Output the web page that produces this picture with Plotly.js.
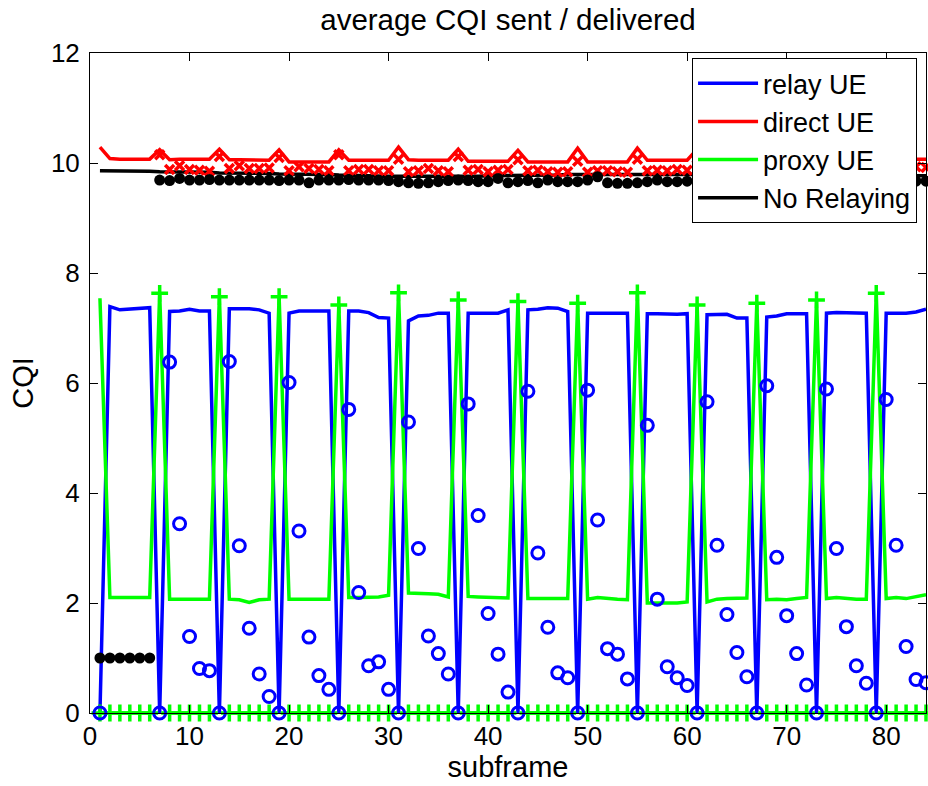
<!DOCTYPE html>
<html>
<head>
<meta charset="utf-8">
<script src="https://cdn.plot.ly/plotly-3.0.1.min.js"></script>
<style>html,body{margin:0;padding:0;background:#fff;}#chart{width:928px;height:786px;}</style>
</head>
<body>
<div id="chart"></div>
<script>
// subframe index
const subframe = Array.from({length: 84}, (_, i) => i + 1);

// relay UE (CQI sent)
const relaySent = [
  0, 7.39, 7.33, 7.34, 7.35, 7.37,
  0, 7.30, 7.31, 7.34, 7.31, 7.31,
  0, 7.35, 7.35, 7.35, 7.33, 7.27,
  0, 7.27, 7.31, 7.31, 7.31, 7.31,
  0, 7.31, 7.31, 7.28, 7.19, 7.18,
  0, 7.13, 7.22, 7.23, 7.27, 7.27,
  0, 7.27, 7.27, 7.27, 7.27, 7.33,
  0, 7.33, 7.34, 7.37, 7.36, 7.30,
  0, 7.27, 7.27, 7.27, 7.27, 7.27,
  0, 7.26, 7.26, 7.25, 7.25, 7.26,
  0, 7.24, 7.25, 7.25, 7.18, 7.18,
  0, 7.20, 7.22, 7.26, 7.26, 7.26,
  0, 7.27, 7.28, 7.28, 7.27, 7.27,
  0, 7.27, 7.27, 7.27, 7.29, 7.34
];

// relay UE (CQI delivered)
const relayDelivered = [
  0, null, null, null, null, null,
  0, 6.38, 3.44, 1.39, 0.81, 0.77,
  0, 6.39, 3.04, 1.54, 0.71, 0.30,
  0, 6.01, 3.31, 1.38, 0.68, 0.43,
  0, 5.52, 2.19, 0.86, 0.93, 0.43,
  0, 5.29, 2.99, 1.40, 1.08, 0.71,
  0, 5.62, 3.59, 1.81, 1.07, 0.38,
  0, 5.85, 2.91, 1.56, 0.73, 0.64,
  0, 5.87, 3.51, 1.17, 1.07, 0.62,
  0, 5.23, 2.07, 0.84, 0.64, 0.50,
  0, 5.66, 3.05, 1.79, 1.10, 0.66,
  0, 5.95, 2.83, 1.77, 1.08, 0.51,
  0, 5.89, 2.99, 1.57, 0.86, 0.54,
  0, 5.70, 3.05, 1.21, 0.61, 0.55
];

// direct UE (CQI sent)
const directSent = [
  10.29, 10.08, 10.07, 10.07, 10.07, 10.07,
  10.24, 10.06, 10.07, 10.07, 10.07, 10.07,
  10.25, 10.06, 10.06, 10.06, 10.06, 10.05,
  10.24, 10.02, 10.02, 10.02, 10.02, 10.02,
  10.24, 10.05, 10.05, 10.05, 10.05, 10.05,
  10.29, 10.06, 10.05, 10.05, 10.05, 10.05,
  10.25, 10.03, 10.03, 10.03, 10.03, 10.03,
  10.23, 10.02, 10.02, 10.02, 10.02, 10.02,
  10.27, 10.02, 10.02, 10.02, 10.02, 10.02,
  10.27, 10.05, 10.05, 10.05, 10.05, 10.05,
  10.25, 10.05, 10.05, 10.05, 10.05, 10.05,
  10.25, 10.05, 10.05, 10.05, 10.05, 10.05,
  10.25, 10.05, 10.05, 10.05, 10.05, 10.05,
  10.25, 10.07, 10.07, 10.07, 10.07, 10.07
];

// direct UE (CQI delivered)
const directDelivered = [
  null, null, null, null, null, null,
  10.15, 9.88, 9.95, 9.88, 9.87, 9.85,
  10.12, 9.90, 9.95, 9.90, 9.90, 9.91,
  10.10, 9.86, 9.93, 9.90, 9.88, 9.86,
  10.15, 9.86, 9.88, 9.88, 9.86, 9.86,
  10.07, 9.84, 9.86, 9.90, 9.86, 9.84,
  10.12, 9.87, 9.88, 9.84, 9.87, 9.88,
  10.06, 9.86, 9.87, 9.84, 9.83, 9.84,
  10.03, 9.83, 9.86, 9.86, 9.84, 9.83,
  10.07, 9.86, 9.87, 9.86, 9.88, 9.87,
  10.08, 9.86, 9.88, 9.87, 9.86, 9.88,
  10.10, 9.87, 9.86, 9.88, 9.87, 9.86,
  10.08, 9.88, 9.87, 9.86, 9.88, 9.87,
  10.10, 9.88, 9.90, 9.91, 9.93, 9.92
];

// proxy UE (CQI sent)
const proxySent = [
  7.54, 2.10, 2.10, 2.10, 2.10, 2.10,
  7.63, 2.07, 2.07, 2.07, 2.07, 2.07,
  7.57, 2.07, 2.06, 2.01, 2.06, 2.07,
  7.57, 2.07, 2.07, 2.07, 2.07, 2.07,
  7.42, 2.10, 2.10, 2.10, 2.11, 2.14,
  7.64, 2.18, 2.18, 2.17, 2.16, 2.11,
  7.51, 2.12, 2.11, 2.10, 2.09, 2.09,
  7.48, 2.08, 2.08, 2.08, 2.08, 2.08,
  7.45, 2.07, 2.10, 2.08, 2.07, 2.06,
  7.64, 2.00, 2.00, 2.00, 2.00, 2.02,
  7.42, 2.02, 2.07, 2.08, 2.08, 2.09,
  7.45, 2.06, 2.07, 2.06, 2.08, 2.10,
  7.51, 2.08, 2.10, 2.08, 2.07, 2.07,
  7.63, 2.08, 2.10, 2.08, 2.11, 2.15
];

// proxy UE (CQI delivered)
const proxyDelivered = [
  0, 0, 0, 0, 0, 0,
  7.63, 0, 0, 0, 0, 0,
  7.57, 0, 0, 0, 0, 0,
  7.57, 0, 0, 0, 0, 0,
  7.42, 0, 0, 0, 0, 0,
  7.64, 0, 0, 0, 0, 0,
  7.51, 0, 0, 0, 0, 0,
  7.48, 0, 0, 0, 0, 0,
  7.45, 0, 0, 0, 0, 0,
  7.64, 0, 0, 0, 0, 0,
  7.42, 0, 0, 0, 0, 0,
  7.45, 0, 0, 0, 0, 0,
  7.51, 0, 0, 0, 0, 0,
  7.63, 0, 0, 0, 0, 0
];

// No Relaying (CQI sent)
const noRelaySent = [
  9.86, 9.86, 9.85, 9.85, 9.85, 9.85,
  9.84, 9.84, 9.84, 9.83, 9.83, 9.83,
  9.82, 9.82, 9.82, 9.81, 9.81, 9.81,
  9.80, 9.80, 9.80, 9.79, 9.79, 9.79,
  9.78, 9.78, 9.77, 9.77, 9.76, 9.76,
  9.76, 9.75, 9.75, 9.75, 9.75, 9.76,
  9.76, 9.76, 9.76, 9.77, 9.77, 9.77,
  9.77, 9.78, 9.78, 9.78, 9.78, 9.79,
  9.79, 9.79, 9.79, 9.80, 9.80, 9.80,
  9.80, 9.80, 9.80, 9.80, 9.80, 9.80,
  9.80, 9.79, 9.79, 9.79, 9.79, 9.79,
  9.79, 9.78, 9.78, 9.78, 9.78, 9.78,
  9.78, 9.78, 9.77, 9.77, 9.77, 9.77,
  9.77, 9.77, 9.77, 9.77, 9.77, 9.77
];

// No Relaying (CQI delivered)
const noRelayDelivered = [
  1.0, 1.0, 1.0, 1.0, 1.0, 1.0,
  9.69, 9.68, 9.72, 9.69, 9.69, 9.70,
  9.69, 9.69, 9.69, 9.69, 9.69, 9.69,
  9.68, 9.69, 9.69, 9.64, 9.69, 9.69,
  9.69, 9.70, 9.69, 9.69, 9.69, 9.68,
  9.66, 9.64, 9.63, 9.64, 9.66, 9.68,
  9.69, 9.68, 9.66, 9.66, 9.72, 9.64,
  9.66, 9.68, 9.64, 9.69, 9.66, 9.66,
  9.66, 9.69, 9.75, 9.64, 9.63, 9.63,
  9.64, 9.66, 9.69, 9.66, 9.66, 9.67,
  9.66, 9.68, 9.66, 9.67, 9.69, 9.66,
  9.67, 9.68, 9.66, 9.67, 9.66, 9.68,
  9.67, 9.66, 9.68, 9.67, 9.66, 9.67,
  9.68, 9.66, 9.67, 9.68, 9.67, 9.67
];

const seriesNames = ["relay UE", "direct UE", "proxy UE", "No Relaying"];
const xTicks = [0, 10, 20, 30, 40, 50, 60, 70, 80];
const yTicks = [0, 2, 4, 6, 8, 10, 12];

const FONT = "Liberation Sans, Arial, Helvetica, sans-serif";
const BLUE = "#0000ff", RED = "#ff0000", GREEN = "#00ff00", BLACK = "#000000";

function lineTrace(y, name, color) {
  return {x: subframe, y: y, name: name, type: "scatter", mode: "lines",
          line: {color: color, width: 3.5}, cliponaxis: false};
}
function markTrace(y, symbol, color, size, lw) {
  return {x: subframe, y: y, type: "scatter", mode: "markers", showlegend: false,
          hoverinfo: "skip", cliponaxis: false,
          marker: {symbol: symbol, color: color, size: size,
                   line: {color: color, width: lw}}};
}

const data = [
  lineTrace(relaySent, seriesNames[0], BLUE),
  lineTrace(directSent, seriesNames[1], RED),
  lineTrace(proxySent, seriesNames[2], GREEN),
  lineTrace(noRelaySent, seriesNames[3], BLACK),
  markTrace(directDelivered, "x-thin-open", RED, 9, 3.5),
  markTrace(noRelayDelivered, "circle", BLACK, 11, 0),
  markTrace(proxyDelivered, "cross-thin-open", GREEN, 12, 3.5),
  markTrace(relayDelivered, "circle-open", BLUE, 12, 3)
];

const axisCommon = {
  showline: true, linecolor: "#000", linewidth: 1, mirror: "ticks",
  ticks: "inside", ticklen: 8, tickwidth: 1, tickcolor: "#000",
  showgrid: false, zeroline: false,
  tickfont: {family: FONT, size: 26, color: "#000"}
};

const layout = {
  width: 928, height: 786,
  margin: {l: 90, r: 2, t: 53, b: 73},
  paper_bgcolor: "#fff", plot_bgcolor: "#fff",
  font: {family: FONT, color: "#000"},
  title: {text: "average CQI sent / delivered", font: {family: FONT, size: 29.5, color: "#000"},
          x: 0.5, xref: "paper", y: 0.975, yref: "container", yanchor: "middle"},
  xaxis: Object.assign({}, axisCommon, {
    range: [0, 84], tickvals: xTicks, ticktext: xTicks.map(String),
    title: {text: "subframe", font: {family: FONT, size: 29, color: "#000"}, standoff: 1}
  }),
  yaxis: Object.assign({}, axisCommon, {
    range: [0, 12], tickvals: yTicks, ticktext: yTicks.map(String),
    ticklabelstandoff: 4,
    title: {text: "CQI", font: {family: FONT, size: 29, color: "#000"}, standoff: 8}
  }),
  showlegend: true,
  legend: {
    x: 0.9893, y: 0.992, xanchor: "right", yanchor: "top",
    bgcolor: "#fff", bordercolor: "#000", borderwidth: 1,
    font: {family: FONT, size: 27, color: "#000"},
    itemwidth: 60,
    tracegroupgap: 0
  }
};

Plotly.newPlot("chart", data, layout, {displayModeBar: false, staticPlot: true});
</script>
</body>
</html>
